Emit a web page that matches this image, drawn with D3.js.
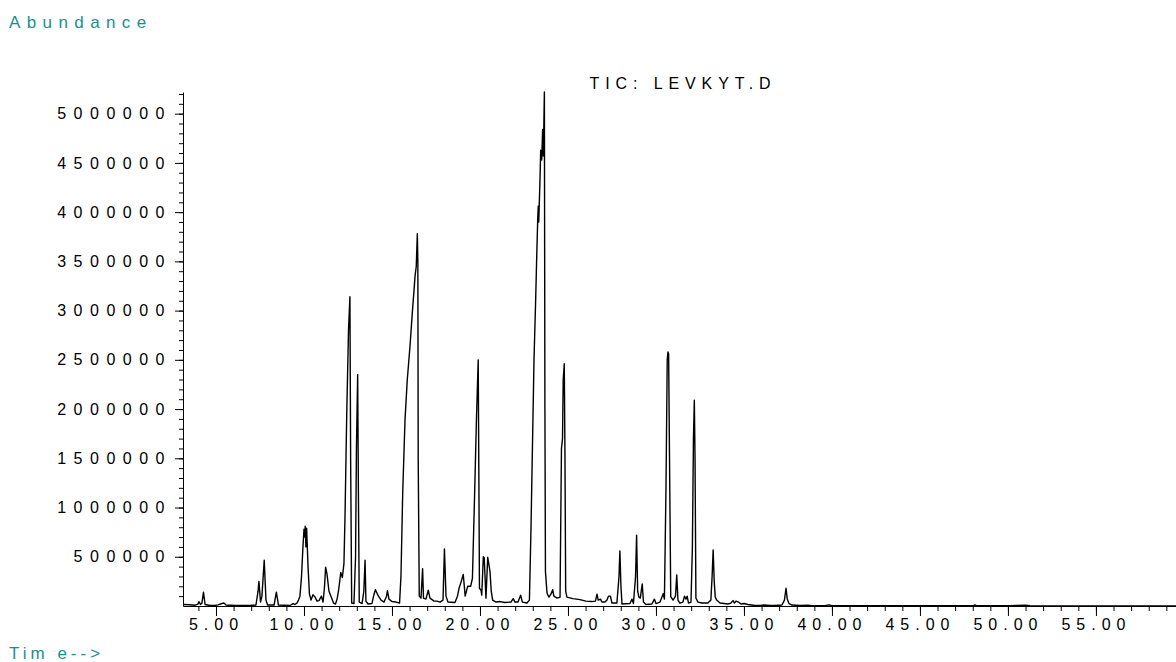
<!DOCTYPE html>
<html><head><meta charset="utf-8">
<script src="https://cdn.jsdelivr.net/npm/d3@7"></script>
<style>
body{margin:0;background:#fff}
svg{display:block}
</style>
</head><body>
<svg id="chart" width="1176" height="662"></svg>
<script>
// ---- data ----
const times = [3.15,3.52,3.81,3.98,4.03,4.12,4.20,4.29,4.38,4.66,
4.94,5.11,5.34,5.45,5.57,6.08,6.93,7.27,7.39,7.44,
7.53,7.61,7.74,7.84,7.93,8.30,8.43,8.55,9.20,9.38,
9.49,9.60,9.69,9.77,9.86,9.94,10.00,10.05,10.07,10.11,
10.15,10.23,10.31,10.40,10.51,10.63,10.74,10.85,10.99,11.08,
11.16,11.23,11.31,11.42,11.53,11.68,11.79,11.88,11.96,12.09,
12.18,12.27,12.33,12.43,12.53,12.61,12.65,12.71,12.84,12.93,
12.98,13.05,13.09,13.14,13.30,13.40,13.47,13.52,13.64,13.86,
13.98,14.06,14.20,14.38,14.55,14.69,14.74,14.83,15.00,15.23,
15.43,15.51,15.61,15.74,15.87,16.02,16.18,16.25,16.31,16.38,
16.44,16.47,16.49,16.55,16.65,16.74,16.79,16.93,17.06,17.16,
17.39,17.56,17.73,17.90,17.98,18.07,18.18,18.58,18.72,18.81,
18.92,19.05,19.16,19.30,19.47,19.57,19.69,19.80,19.90,19.94,
19.97,20.06,20.10,20.19,20.24,20.34,20.44,20.51,20.57,20.64,
20.72,20.91,21.14,21.42,21.76,21.89,21.99,22.16,22.31,22.41,
22.67,22.81,22.90,22.98,23.07,23.16,23.22,23.28,23.31,23.34,
23.41,23.45,23.51,23.56,23.60,23.66,23.69,23.72,23.81,23.92,
24.03,24.13,24.20,24.38,24.55,24.63,24.69,24.73,24.79,24.83,
24.87,24.94,25.28,25.68,26.02,26.36,26.56,26.65,26.72,26.85,
26.93,27.10,27.22,27.30,27.41,27.50,27.78,27.90,27.95,28.01,
28.07,28.52,28.64,28.72,28.84,28.90,28.96,29.03,29.11,29.22,
29.29,29.43,29.77,29.91,30.00,30.23,30.41,30.48,30.57,30.64,
30.68,30.72,30.77,30.84,30.97,31.11,31.18,31.25,31.36,31.53,
31.62,31.70,31.77,31.85,31.99,32.07,32.13,32.18,32.22,32.27,
32.39,32.61,32.95,33.12,33.19,33.25,33.31,33.37,33.45,33.64,
34.09,34.26,34.38,34.46,34.55,34.69,34.83,35.00,35.23,35.63,
35.91,36.14,36.48,36.76,37.16,37.30,37.39,37.46,37.56,37.73,
38.18,38.64,38.86,39.60,39.83,40.00,41.59,43.86,48.01,48.13,
48.24,50.11,50.51,51.02,51.25,55.20,59.55];

// abundance in thousands of counts
const abundanceK = [15,12,8,20,44,15,30,140,15,5,
5,12,25,30,10,5,5,10,150,250,
40,100,465,60,10,10,140,10,5,25,
15,30,60,100,300,600,780,700,810,600,
790,400,120,60,115,90,50,55,100,40,
180,395,320,150,100,30,20,70,150,340,
290,430,900,1960,2800,3140,1500,30,25,500,
1600,2350,1200,40,25,150,465,50,20,25,
120,165,110,60,40,100,155,70,45,40,
30,300,1150,1890,2300,2630,3040,3200,3350,3450,
3780,3500,1500,100,80,380,80,70,160,80,
50,50,40,60,580,100,40,35,100,180,
240,320,100,200,200,280,1100,1900,2500,1200,
180,160,110,500,490,80,495,420,350,150,
60,40,45,35,40,75,40,40,110,40,
30,60,800,1600,2500,3080,3520,3920,4060,3900,
4330,4630,4530,4840,4570,5220,2000,350,130,90,
120,165,100,80,90,1600,1700,2300,2460,1500,
150,90,75,65,50,45,50,120,60,70,
40,40,60,100,100,30,30,300,560,200,
20,25,70,25,300,720,150,90,80,224,
40,15,20,70,25,40,125,70,1200,2500,
2580,2560,1500,95,60,100,315,60,30,40,
100,70,100,30,40,600,1700,2090,1500,80,
40,30,30,60,300,570,250,90,60,30,
20,30,55,30,50,40,20,25,15,5,
5,10,5,5,10,60,180,70,25,10,
5,8,3,3,12,3,2,2,2,10,
2,2,6,8,2,1,1];

const xMajorTicks = [5,10,15,20,25,30,35,40,45,50,55];
const xMinorTicks = [4,5,6,7,8,9,10,11,12,13,14,15,16,17,18,19,20,21,22,23,24,25,26,27,28,29,30,31,32,33,34,35,36,37,38,39,40,41,42,43,44,45,46,47,48,49,50,51,52,53,54,55,56,57,58,59];
const yMajorTicks = [500000,1000000,1500000,2000000,2500000,3000000,3500000,4000000,4500000,5000000];
const yMinorTicks = [100000,200000,300000,400000,500000,600000,700000,800000,900000,1000000,1100000,1200000,1300000,1400000,1500000,1600000,1700000,1800000,1900000,2000000,2100000,2200000,2300000,2400000,2500000,2600000,2700000,2800000,2900000,3000000,3100000,3200000,3300000,3400000,3500000,3600000,3700000,3800000,3900000,4000000,4100000,4200000,4300000,4400000,4500000,4600000,4700000,4800000,4900000,5000000,5100000,5200000];
const xDomain = [3.125, 59.55];
const yDomain = [0, 5220000];
const titleText = "TIC: LEVKYT.D";
const yAxisTitle = "Abundance";
const xAxisTitle = "Tim e-->";

// ---- drawing ----
const FONT = '"Liberation Sans", Arial, Helvetica, sans-serif';
const svg = d3.select("#chart");
svg.append("rect").attr("width",1176).attr("height",662).attr("fill","#fff");

const x = d3.scaleLinear().domain(xDomain).range([183, 1176]);
const y = d3.scaleLinear().domain(yDomain).range([606, 92]);

// x axis: minor ticks
svg.append("g").attr("transform","translate(0,606)")
  .call(d3.axisBottom(x).tickValues(xMinorTicks).tickSize(5).tickSizeOuter(0).tickFormat(""))
  .call(g=>g.selectAll("path,line").attr("stroke","#000").attr("stroke-width",1));
// x axis: major ticks + labels
const gx = svg.append("g").attr("transform","translate(0,606)")
  .call(d3.axisBottom(x).tickValues(xMajorTicks).tickSize(10).tickSizeOuter(0).tickPadding(3).tickFormat(d3.format(".2f")));
gx.select(".domain").remove();
gx.selectAll("line").attr("stroke","#000");
gx.selectAll("text").attr("fill","#000").style("font-family",FONT).style("font-size","16px").style("letter-spacing","6px");

// y axis: minor ticks
svg.append("g").attr("transform","translate(183,0)")
  .call(d3.axisLeft(y).tickValues(yMinorTicks).tickSize(4).tickSizeOuter(0).tickFormat(""))
  .call(g=>g.selectAll("path,line").attr("stroke","#000").attr("stroke-width",1));
// y axis: major ticks + labels
const gy = svg.append("g").attr("transform","translate(183,0)")
  .call(d3.axisLeft(y).tickValues(yMajorTicks).tickSize(8).tickSizeOuter(0).tickPadding(3).tickFormat(d3.format("d")));
gy.select(".domain").remove();
gy.selectAll("line").attr("stroke","#000");
gy.selectAll("text").attr("fill","#000").style("font-family",FONT).style("font-size","16px").style("letter-spacing","7.5px");

// trace
const pts = d3.zip(times, abundanceK);
const line = d3.line().x(d=>x(d[0])).y(d=>y(d[1]*1000));
svg.append("path").datum(pts).attr("d",line)
  .attr("fill","none").attr("stroke","#000").attr("stroke-width",1.4).attr("stroke-linejoin","round");

// texts
svg.append("text").attr("x",683).attr("y",89).attr("text-anchor","middle")
  .style("font-family",FONT).style("font-size","16px").style("letter-spacing","5.9px").attr("fill","#000")
  .text(titleText);
svg.append("text").attr("x",9).attr("y",28)
  .style("font-family",FONT).style("font-size","17px").style("letter-spacing","6.4px").attr("fill","#1a8f8f")
  .text(yAxisTitle);
svg.append("text").attr("x",9).attr("y",659)
  .style("font-family",FONT).style("font-size","17px").style("letter-spacing","4px").attr("fill","#1a8f8f")
  .text(xAxisTitle);
</script>
</body></html>
